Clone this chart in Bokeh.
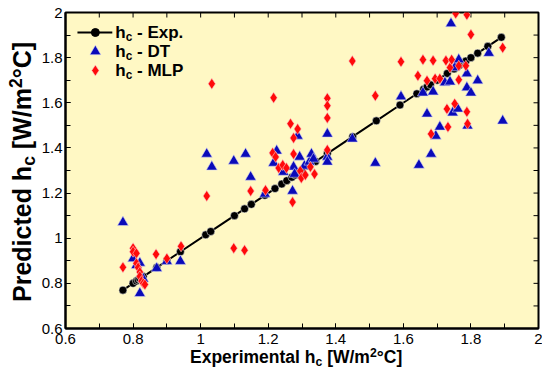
from bokeh.plotting import figure
from bokeh.models import Label, LinearAxis, Range1d, FixedTicker, Div
from bokeh.layouts import row, column
from bokeh.embed import file_html
from bokeh.resources import INLINE

# ---------------- data ----------------
exp_hc = [0.77, 0.80, 0.81, 0.815, 0.82, 0.83, 0.87, 0.90, 0.94, 1.015, 1.03, 1.10,
          1.13, 1.15, 1.19, 1.22, 1.24, 1.255, 1.27, 1.28, 1.29, 1.30, 1.32, 1.34,
          1.375, 1.45, 1.52, 1.59, 1.64, 1.66, 1.67, 1.68, 1.70, 1.73, 1.75, 1.765,
          1.785, 1.80, 1.82, 1.85, 1.89]

dt_x = [0.77, 0.80, 0.82, 0.83, 0.82, 0.81, 0.87, 0.90, 0.94, 1.018, 1.033, 1.098,
        1.133, 1.148, 1.19, 1.225, 1.216, 1.245, 1.272, 1.275, 1.278, 1.287, 1.293,
        1.307, 1.322, 1.328, 1.334, 1.375, 1.375, 1.375, 1.449, 1.517, 1.593, 1.646,
        1.658, 1.67, 1.682, 1.688, 1.696, 1.708, 1.723, 1.738, 1.741, 1.746, 1.752,
        1.761, 1.764, 1.788, 1.788, 1.79, 1.80, 1.82, 1.853, 1.894]
dt_y = [1.07, 0.91, 0.89, 0.82, 0.756, 0.88, 0.867, 0.898, 0.898, 1.373, 1.316, 1.342,
        1.373, 1.271, 1.196, 1.387, 1.333, 1.293, 1.209, 1.316, 1.284, 1.453, 1.36,
        1.32, 1.338, 1.373, 1.351, 1.462, 1.36, 1.338, 1.44, 1.333, 1.627, 1.324,
        1.644, 1.551, 1.373, 1.649, 1.453, 1.493, 1.689, 1.693, 1.951, 1.556, 1.756,
        1.573, 1.791, 1.729, 1.667, 1.498, 1.644, 1.698, 1.82, 1.52]

mlp_x = [0.77, 0.80, 0.80, 0.81, 0.81, 0.815, 0.82, 0.82, 0.825, 0.83, 0.835, 0.868,
         0.90, 0.942, 1.018, 1.033, 1.098, 1.13, 1.148, 1.192, 1.213, 1.216, 1.222,
         1.231, 1.243, 1.254, 1.266, 1.272, 1.275, 1.275, 1.287, 1.295, 1.298, 1.31,
         1.325, 1.337, 1.375, 1.375, 1.375, 1.375, 1.449, 1.517, 1.593, 1.643, 1.658,
         1.67, 1.682, 1.688, 1.694, 1.708, 1.726, 1.729, 1.732, 1.738, 1.743, 1.752,
         1.755, 1.764, 1.764, 1.785, 1.788, 1.788, 1.79, 1.80, 1.894]
mlp_y = [0.871, 0.956, 0.94, 0.933, 0.889, 0.87, 0.85, 0.831, 0.81, 0.80, 0.795, 0.929,
         0.91, 0.964, 1.187, 1.684, 0.956, 0.947, 1.209, 1.213, 1.378, 1.622, 1.36,
         1.311, 1.324, 1.311, 1.507, 1.16, 1.444, 1.373, 1.484, 1.298, 1.267, 1.28,
         1.316, 1.284, 1.62, 1.587, 1.533, 1.391, 1.785, 1.631, 1.782, 1.72, 1.791,
         1.698, 1.462, 1.787, 1.707, 1.707, 1.787, 1.573, 1.493, 1.756, 1.791, 1.596,
         1.996, 1.764, 1.702, 1.764, 1.99, 1.56, 1.507, 1.902, 1.844]

major_ticks = [0.6, 0.8, 1.0, 1.2, 1.4, 1.6, 1.8, 2.0]
minor_ticks = [0.6, 0.7, 0.8, 0.9, 1.0, 1.1, 1.2, 1.3, 1.4, 1.5, 1.6, 1.7, 1.8, 1.9, 2.0]
tick_labels = {0.6: "0.6", 0.8: "0.8", 1.0: "1", 1.2: "1.2", 1.4: "1.4",
               1.6: "1.6", 1.8: "1.8", 2.0: "2"}

x_title = ("Experimental h", "c", " [W/m", "2", "°C]")
y_title = ("Predicted h", "c", " [W/m", "2", "°C]")
legend_names = ("- Exp.", "- DT", "- MLP")

# ---------------- colours ----------------
BG = "#FFF8C4"
BLUE = "#0A0AB9"
RED = "#FF0A0A"

# ---------------- figure ----------------
X0, X1, Y0, Y1 = 0.6, 2.0, 0.6, 2.0
YDIV_W = 38
FL, FW, FT, FH, FB = 25, 475, 12, 316, 24
PW = FL + FW + 4
PH = FT + FH + FB
XDIV_H = 22
TOTAL_H = PH + XDIV_H

p = figure(width=PW, height=PH, x_range=Range1d(X0, X1), y_range=Range1d(Y0, Y1),
           output_backend="svg", toolbar_location=None,
           min_border_left=FL, min_border_right=4, min_border_top=FT,
           min_border_bottom=FB, x_axis_location=None, y_axis_location=None)
p.background_fill_color = BG
p.border_fill_color = "white"
p.outline_line_color = "black"
p.outline_line_width = 2
p.xgrid.visible = False
p.ygrid.visible = False


def make_axis(standoff):
    ax = LinearAxis(ticker=FixedTicker(ticks=major_ticks, minor_ticks=minor_ticks))
    ax.major_label_overrides = tick_labels
    ax.major_tick_in = 5
    ax.major_tick_out = 0
    ax.minor_tick_in = 5
    ax.minor_tick_out = 0
    ax.axis_line_color = "black"
    ax.axis_line_width = 2
    ax.major_tick_line_color = "black"
    ax.minor_tick_line_color = "black"
    ax.major_label_text_font = "Liberation Sans"
    ax.major_label_text_font_size = "15px"
    ax.major_label_text_color = "black"
    ax.major_label_standoff = standoff
    return ax


p.add_layout(make_axis(5), "below")
p.add_layout(make_axis(3), "left")

# mirrored inward ticks on the top and right edges (from the tick lists)
dx = 5 * (X1 - X0) / FW
dy = 5 * (Y1 - Y0) / FH
n = len(minor_ticks)
p.segment(x0=[X1] * n, y0=minor_ticks, x1=[X1 - dx] * n, y1=minor_ticks,
          line_color="black", line_width=1)
p.segment(x0=minor_ticks, y0=[Y1] * n, x1=minor_ticks, y1=[Y1 - dy] * n,
          line_color="black", line_width=1)

# ---------------- glyphs ----------------
p.line(exp_hc, exp_hc, line_color="black", line_width=2)
p.scatter(exp_hc, exp_hc, marker="circle", size=8, fill_color="black",
          line_color="white", line_width=0.5)
p.scatter(dt_x, dt_y, marker="triangle", size=11, fill_color=BLUE,
          line_color="#D8D8F0", line_width=0.6)
p.scatter(mlp_x, mlp_y, marker="diamond", size=11, fill_color=RED,
          line_color="#FFD0D0", line_width=0.6)

# ---------------- legend (inside the frame) ----------------
REF_L, REF_W, REF_T, REF_H = 63, 475, 12, 316


def rx(px):
    return X0 + (px - REF_L) * (X1 - X0) / REF_W


def ry(py):
    return Y1 - (py - REF_T) * (Y1 - Y0) / REF_H


W = {' ': 278, '-': 333, '.': 278, 'D': 722, 'E': 667, 'L': 611, 'M': 833, 'P': 667,
     'T': 611, 'c': 556, 'h': 611, 'p': 611, 'x': 556}


def twidth(s, size):
    return sum(W.get(ch, 556) for ch in s) * size / 1000.0


def add_label(x, y, text, size, xoff, yoff):
    lab = Label(x=x, y=y, text=text, text_align="left", text_baseline="middle",
                x_offset=xoff, y_offset=yoff)
    lab.text_font = "Liberation Sans"
    lab.text_font_style = "bold"
    lab.text_font_size = f"{size:.1f}px"
    lab.text_color = "black"
    p.add_layout(lab)


rows_y = [ry(32), ry(51), ry(70)]
lx0, lx1, lxm, ltx = rx(75), rx(110), rx(93), rx(113)
p.line([lx0, lx1], [rows_y[0]] * 2, line_color="black", line_width=2)
p.scatter([lxm], [rows_y[0]], marker="circle", size=8, fill_color="black", line_color="black")
p.scatter([lxm], [rows_y[1]], marker="triangle", size=11, fill_color=BLUE,
          line_color="#D8D8F0", line_width=0.6)
p.scatter([lxm], [rows_y[2]], marker="diamond", size=11, fill_color=RED,
          line_color="#FFD0D0", line_width=0.6)
FS = 17
for yy, name in zip(rows_y, legend_names):
    add_label(ltx, yy, "h", FS, 0, 0)
    add_label(ltx, yy, "c", FS * 0.7, twidth("h", FS), -4)
    add_label(ltx, yy, name, FS, twidth("h", FS) + twidth("c", FS * 0.7) + twidth(" ", FS), 0)

# ---------------- axis titles (HTML text with real sub/superscripts) ----------------
FONT = 'font-family:"Liberation Sans",Arial,sans-serif;font-weight:bold;color:#000;'
SUB = "font-size:0.7em;vertical-align:-0.22em;line-height:0;"
SUP = "font-size:0.7em;vertical-align:0.5em;line-height:0;"


def title_html(parts):
    a, b, c, d, e = parts
    return f"{a}<span style='{SUB}'>{b}</span>{c}<span style='{SUP}'>{d}</span>{e}"


x_div = Div(
    text=(f"<div style='position:relative;width:{PW}px;height:{XDIV_H}px;'>"
          f"<span style='position:absolute;left:152px;top:0px;line-height:10px;"
          f"white-space:nowrap;font-size:17.5px;{FONT}'>{title_html(x_title)}</span></div>"),
    width=PW, height=XDIV_H, margin=0)

y_div = Div(
    text=(f"<div style='position:relative;width:{YDIV_W}px;height:{TOTAL_H}px;'>"
          f"<span style='position:absolute;left:7px;top:302px;line-height:30px;"
          f"white-space:nowrap;font-size:25px;transform:rotate(-90deg);"
          f"transform-origin:0 0;{FONT}'>{title_html(y_title)}</span></div>"),
    width=YDIV_W, height=TOTAL_H, margin=0)

layout = row(y_div, column(p, x_div, spacing=0), spacing=0)

open("out.html", "w").write(file_html(layout, INLINE))
